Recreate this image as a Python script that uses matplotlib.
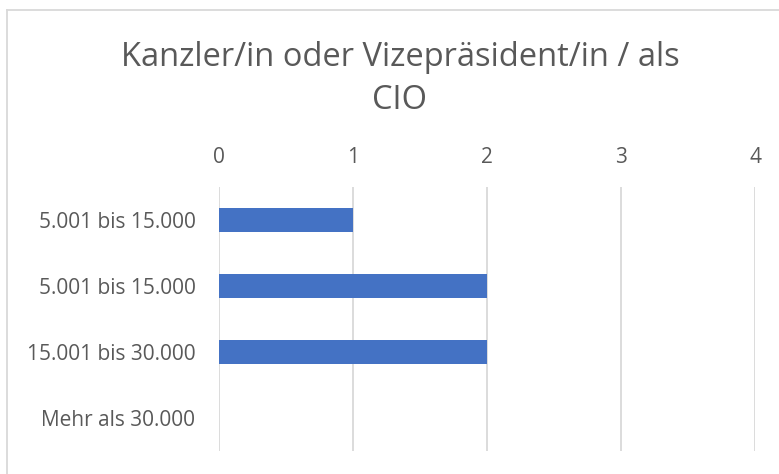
import matplotlib
matplotlib.use("Agg")
import matplotlib.pyplot as plt
from matplotlib.lines import Line2D

# Chart data
categories = ["5.001 bis 15.000", "5.001 bis 15.000", "15.001 bis 30.000", "Mehr als 30.000"]
values = [1, 2, 2, 0]
x_ticks = [0, 1, 2, 3, 4]
title = "Kanzler/in oder Vizepräsident/in / als\nCIO"

BAR_COLOR = "#4472C4"
TEXT_COLOR = "#595959"
GRID_COLOR = "#D9D9D9"

plt.rcParams["font.family"] = ["Open Sans", "DejaVu Sans"]

fig = plt.figure(figsize=(7.79, 4.74), dpi=100)
ax = fig.add_axes([219 / 779, 1 - 451 / 474, 536 / 779, 264 / 474])

y_pos = list(range(len(categories)))
ax.barh(y_pos, values, height=0.35, color=BAR_COLOR, zorder=3)

ax.set_xlim(0, 4)
ax.set_ylim(len(categories) - 0.5, -0.5)
ax.set_xticks(x_ticks)
ax.set_yticks(y_pos)
ax.set_yticklabels(categories)

ax.xaxis.tick_top()
ax.tick_params(axis="x", length=0, pad=14, labelsize=15, labelcolor=TEXT_COLOR)
ax.tick_params(axis="y", length=0, pad=17, labelsize=15, labelcolor=TEXT_COLOR)
ax.grid(axis="x", color=GRID_COLOR, linewidth=1.3, zorder=0)
for side in ax.spines.values():
    side.set_visible(False)

fig.text(400 / 779, 1 - 79 / 474, title, ha="center", va="center",
         fontsize=23.5, color=TEXT_COLOR, linespacing=1.4)

# light chart-area border (cropped at right and bottom)
fig.add_artist(Line2D([7 / 779, 7 / 779], [0, 1 - 10 / 474],
                      transform=fig.transFigure, color=GRID_COLOR, linewidth=1.3))
fig.add_artist(Line2D([7 / 779, 1], [1 - 10 / 474, 1 - 10 / 474],
                      transform=fig.transFigure, color=GRID_COLOR, linewidth=1.3))

fig.savefig("out.png", dpi=100)
